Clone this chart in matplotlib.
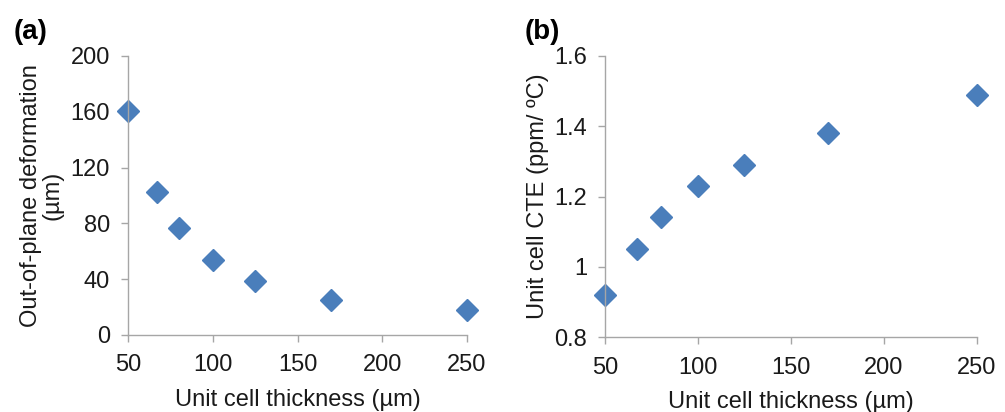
import matplotlib
matplotlib.use('Agg')
from matplotlib import pyplot as plt
from matplotlib.ticker import FuncFormatter

# unit cell thickness (um)
thickness = [50, 67, 80, 100, 125, 170, 250]
# (a) out-of-plane deformation (um)
deformation = [160.5, 102.5, 77, 54, 38.5, 25, 18]
# (b) unit cell CTE (ppm/C)
cte = [0.921, 1.052, 1.143, 1.231, 1.291, 1.380, 1.490]

plt.rcParams['font.family'] = ['Liberation Sans', 'DejaVu Sans']
blue = '#4A7EBB'
grey = '#A6A6A6'
fs = 17

fig = plt.figure(figsize=(10.05, 4.12), dpi=100)
ax1 = fig.add_axes([0.1274, 0.1869, 0.3373, 0.6772])
ax2 = fig.add_axes([0.602, 0.1813, 0.3698, 0.6828])


def style_ax(ax):
    for s in ['top', 'right']:
        ax.spines[s].set_visible(False)
    for s in ['left', 'bottom']:
        ax.spines[s].set_color(grey)
        ax.spines[s].set_linewidth(1.0)
    ax.tick_params(direction='out', length=5, width=1.0, color=grey,
                   labelsize=fs, labelcolor='#1a1a1a')
    ax.tick_params(axis='x', pad=9)
    ax.tick_params(axis='y', pad=8)
    ax.set_xlim(50, 250)
    ax.set_xticks([50, 100, 150, 200, 250])
    ax.set_xlabel('Unit cell thickness (µm)', fontsize=fs, labelpad=9,
                  color='#1a1a1a')


ax1.plot(thickness, deformation, 'D', color=blue, ms=11.5, clip_on=False)
style_ax(ax1)
ax1.set_ylim(0, 200)
ax1.set_yticks([0, 40, 80, 120, 160, 200])
ax1.set_ylabel('Out-of-plane deformation\n(µm)', fontsize=fs, labelpad=5,
               linespacing=1.0, color='#1a1a1a')

ax2.plot(thickness, cte, 'D', color=blue, ms=11.5, clip_on=False)
style_ax(ax2)
ax2.set_ylim(0.8, 1.6)
ax2.set_yticks([0.8, 1.0, 1.2, 1.4, 1.6])
ax2.yaxis.set_major_formatter(FuncFormatter(lambda v, p: '%g' % round(v, 2)))
ax2.set_ylabel('Unit cell CTE (ppm/ ºC)', fontsize=fs, labelpad=4,
               color='#1a1a1a')

fig.text(0.014, 0.905, '(a)', fontsize=20, fontweight='bold')
fig.text(0.522, 0.905, '(b)', fontsize=20, fontweight='bold')

fig.savefig('out.png', dpi=100)
